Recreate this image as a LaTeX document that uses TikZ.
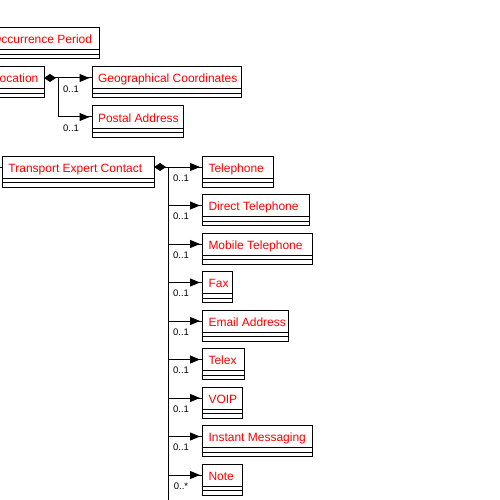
\documentclass[tikz,border=0pt]{standalone}
\usepackage{fontspec}
\setmainfont{Liberation Sans}
\usetikzlibrary{arrows.meta}
\tikzset{
  cls/.style={draw, line width=1pt, inner ysep=0pt, inner xsep=6pt, outer sep=0pt, minimum height=22pt,
    text height=12pt, text depth=2pt,
    anchor=north west, text=red, font=\fontsize{12}{14}\selectfont},
  mult/.style={font=\fontsize{9.5}{11}\selectfont, inner sep=0pt, text=black},
  conn/.style={line width=1pt},
  tipline/.style={line width=1pt, -{Triangle[length=10pt,width=8pt]}, shorten >=2.5pt},
  comp/.style={line width=1pt, {Diamond[length=12pt,width=8pt]}-},
}
\newcommand{\umlcls}[5]{%
  \pgfmathsetmacro{\clsw}{#4-12}%
  \node[cls] (#1) at (#2,#3) {\makebox[\clsw pt][l]{#5}};
  \draw[line width=1pt] (#1.south west) rectangle ([yshift=-4.5pt]#1.south east);
  \draw[line width=1pt] ([yshift=-4.5pt]#1.south west) rectangle ([yshift=-9pt]#1.south east);
}
\newcommand{\branch}[3]{% junction, child, label
  \draw[conn] (#1 |- #2.west) -- (#2.west);
  \draw[tipline] (#1 |- #2.west) -- (#2.west);
  \node[mult] at ([xshift=13pt,yshift=-11pt]#1 |- #2.west) {#3};
}
\begin{document}
\begin{tikzpicture}[x=1pt,y=-1pt]
\useasboundingbox (0,0) rectangle (500,500);
\clip (0,0) rectangle (500,500);
\fill[white] (0,0) rectangle (500,500);

\umlcls{occ}{-14}{28}{113.5}{Occurrence Period}
\umlcls{loc}{-13}{67}{57}{Location}
\umlcls{geo}{92}{67}{149}{Geographical Coordinates}
\umlcls{post}{92}{106}{91}{Postal Address}

\coordinate (lj) at (58,78);
\draw[comp] (loc.east) -- (lj);
\draw[conn] (lj) -- (lj |- post.west);
\branch{lj}{geo}{0..1}
\branch{lj}{post}{0..1}

\umlcls{tec}{2.5}{156}{151.5}{Transport Expert Contact}
\draw[conn] (tec.west) -- ++(-4,0);

\umlcls{tel}{202.5}{156}{70.5}{Telephone}
\umlcls{dtel}{202.5}{194.5}{106.5}{Direct Telephone}
\umlcls{mtel}{202.5}{233}{109.5}{Mobile Telephone}
\umlcls{fax}{202.5}{271.5}{29.5}{Fax}
\umlcls{mail}{202.5}{310}{85.5}{Email Address}
\umlcls{telex}{202.5}{348.5}{41.5}{Telex}
\umlcls{voip}{202.5}{387}{39.5}{VOIP}
\umlcls{im}{202.5}{425.5}{109.5}{Instant Messaging}
\umlcls{note}{202.5}{464}{39.5}{Note}

\coordinate (tj) at (168,167);
\coordinate (tend) at (168,510);
\draw[comp] (tec.east) -- (tj);
\draw[conn] (tj) -- (tend);
\branch{tj}{tel}{0..1}
\branch{tj}{dtel}{0..1}
\branch{tj}{mtel}{0..1}
\branch{tj}{fax}{0..1}
\branch{tj}{mail}{0..1}
\branch{tj}{telex}{0..1}
\branch{tj}{voip}{0..1}
\branch{tj}{im}{0..1}
\branch{tj}{note}{0..*}
\end{tikzpicture}
\end{document}
